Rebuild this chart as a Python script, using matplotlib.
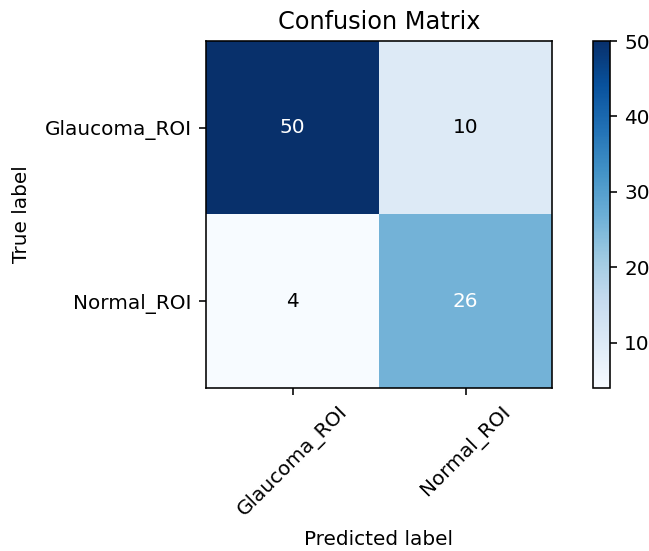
import numpy as np
import matplotlib
matplotlib.use("Agg")
import matplotlib.pyplot as plt

classes = ["Glaucoma_ROI", "Normal_ROI"]
cm = np.array([[50, 10],
               [4, 26]])
cbar_ticks = [10, 20, 30, 40, 50]

s = 1.44  # overall scale for fonts, ticks and lines
plt.rcParams.update({
    "font.family": "DejaVu Sans",
    "font.size": 10 * s,
    "axes.linewidth": 0.8 * s,
    "xtick.major.size": 3.5 * s,
    "ytick.major.size": 3.5 * s,
    "xtick.major.width": 0.8 * s,
    "ytick.major.width": 0.8 * s,
    "xtick.major.pad": 3.5 * s,
    "ytick.major.pad": 3.5 * s,
})

fig = plt.figure(figsize=(6.49, 5.51), dpi=100)
ax = fig.add_axes([206 / 649, 163 / 551, 346 / 649, 347 / 551])
cax = fig.add_axes([593 / 649, 163 / 551, 17 / 649, 347 / 551])

im = ax.imshow(cm, interpolation="nearest", cmap=plt.cm.Blues, aspect="auto")
ax.set_title("Confusion Matrix", fontsize=12 * s, pad=6 * s)
cb = fig.colorbar(im, cax=cax)
cb.set_ticks(cbar_ticks)
cb.outline.set_linewidth(0.8 * s)

ticks = np.arange(len(classes))
ax.set_xticks(ticks)
ax.set_xticklabels(classes, rotation=45)
ax.set_yticks(ticks)
ax.set_yticklabels(classes)

thresh = cm.max() / 2.0
for i in range(cm.shape[0]):
    for j in range(cm.shape[1]):
        ax.text(j, i, format(cm[i, j], "d"),
                ha="center", va="center",
                color="white" if cm[i, j] > thresh else "black")

ax.set_ylabel("True label", labelpad=10)
ax.set_xlabel("Predicted label", labelpad=7)

fig.savefig("out.png", dpi=100)
